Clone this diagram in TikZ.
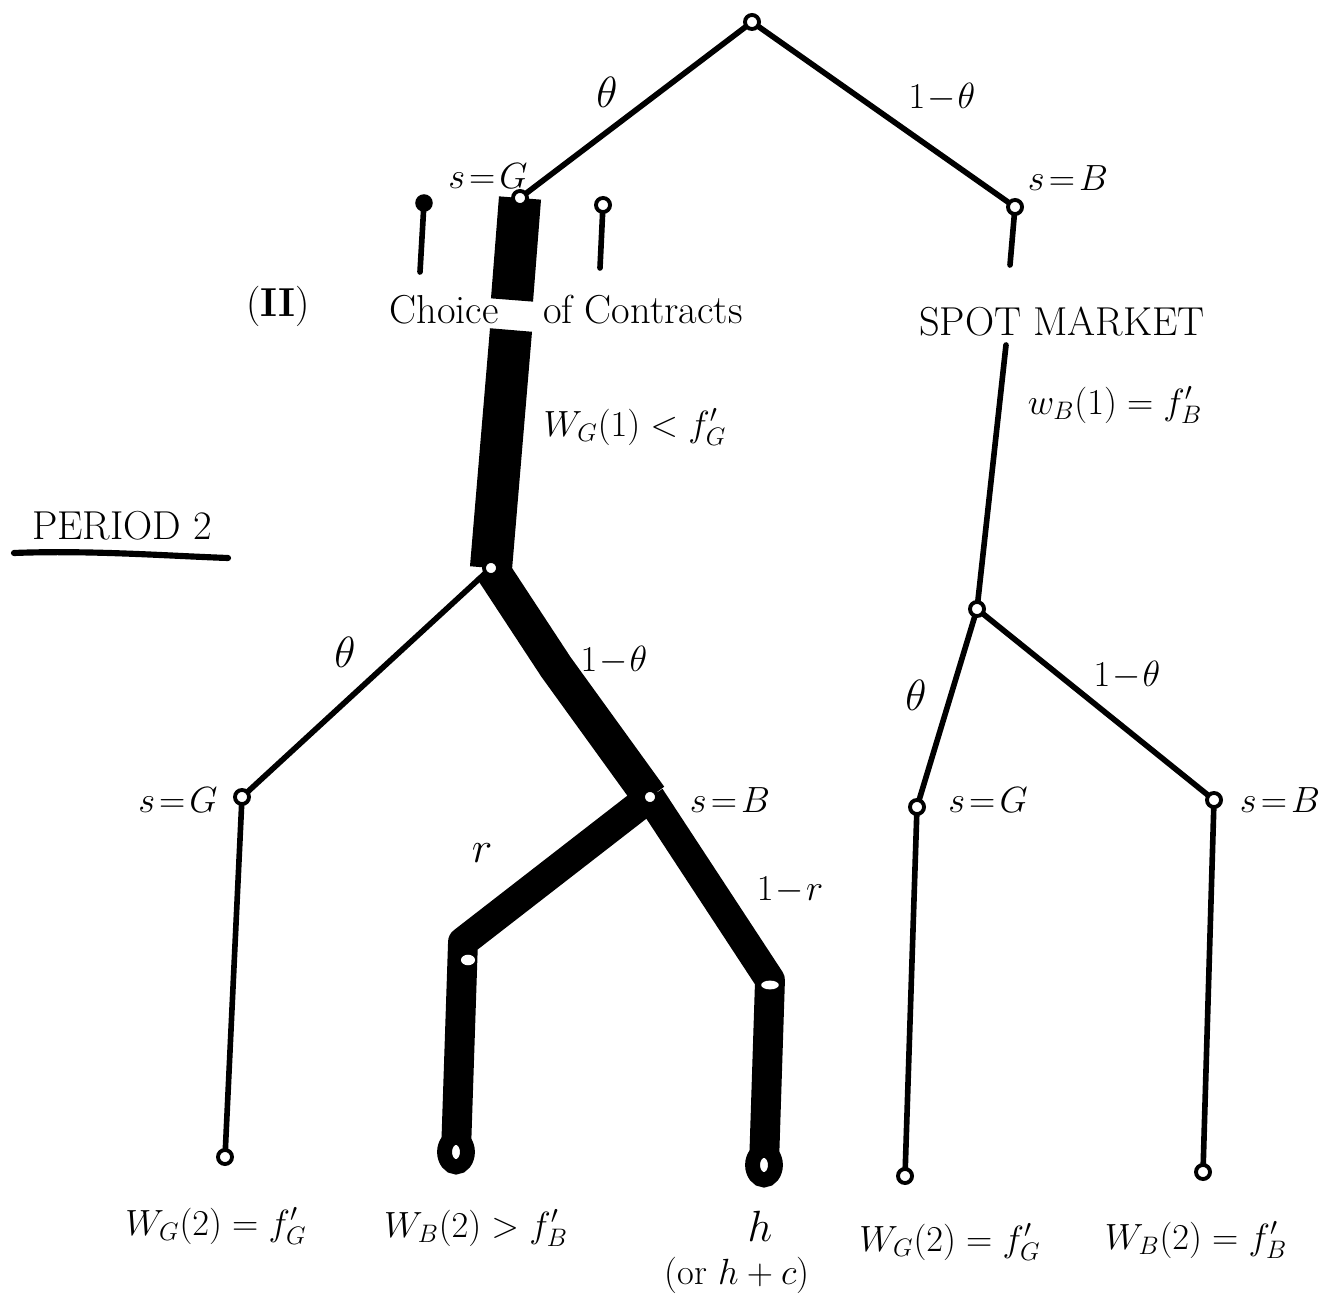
\documentclass[tikz,border=0pt]{standalone}
\usepackage{fontspec}
\usetikzlibrary{shapes.geometric}
\pgfdeclarelayer{bg}
\pgfsetlayers{bg,main}
\begin{document}
\begin{tikzpicture}[x=0.02cm,y=-0.02cm,
  vtx/.style={circle,draw,fill=white,inner sep=0pt,minimum size=8pt,line width=2.2pt},
  dotvtx/.style={circle,fill,inner sep=0pt,minimum size=10pt},
  endblob/.style={ellipse,draw,fill=white,inner sep=0pt,minimum width=13pt,minimum height=17pt,line width=8.5pt},
  thin/.style={line width=3.2pt,line cap=round,line join=round},
  heavy/.style={line width=24pt,line join=round},
  heavym/.style={line width=20pt,line join=round},
  heavyb/.style={line width=17pt,line join=round},
  lbl/.style={font=\fontsize{20.74}{25}\selectfont,inner sep=1pt},
  lblth/.style={font=\fontsize{24.88}{29}\selectfont,inner sep=1pt},
  big/.style={font=\fontsize{23}{28}\selectfont,inner sep=1pt}]
\useasboundingbox (0,0) rectangle (1323,1297);
% vertices
\node[vtx] (root) at (752,22) {};
\node[vtx] (sG) at (520,198) {};
\node[vtx] (sB) at (1015,207) {};
\node[dotvtx] (stubL) at (424,203) {};
\node[vtx] (stubR) at (603,205) {};
\coordinate (stubLe) at (420,272);
\coordinate (stubRe) at (600,268);
\coordinate (sBe) at (1010,265);
\coordinate (barTopEnd) at (512,300);
\coordinate (barLowStart) at (511,330);
\node[vtx] (pA) at (491,568) {};
\coordinate (spotS) at (1006,345);
\node[vtx] (pB) at (977,609) {};
\node[vtx] (lG) at (242,797) {};
\node[vtx] (mB) at (650,797) {};
\node[vtx] (rG) at (917,807) {};
\node[vtx] (rB) at (1214,800) {};
\coordinate (rK) at (463,942);
\coordinate (hK) at (770,980);
\coordinate (aM) at (556,667);
\node[endblob] (eR) at (456,1152) {};
\node[endblob] (eH) at (764,1165) {};
\node[vtx] (eL) at (225,1157) {};
\node[vtx] (eRG) at (905,1176) {};
\node[vtx] (eRB) at (1203,1172) {};
\begin{pgfonlayer}{bg}
\draw[thin] (root.center) -- (sG.center);
\draw[thin] (root.center) -- (sB.center);
\draw[thin] (stubL.center) -- (stubLe);
\draw[thin] (stubR.center) -- (stubRe);
\draw[thin] (sB.center) -- (sBe);
\draw[thin] (spotS) -- (pB.center);
\draw[thin] (pA.center) -- (lG.center);
\draw[thin] (lG.center) -- (eL.center);
\draw[thin] (pB.center) -- (rG.center);
\draw[thin] (pB.center) -- (rB.center);
\draw[thin] (rG.center) -- (eRG.center);
\draw[thin] (rB.center) -- (eRB.center);
\draw[heavy] (sG.center) -- (barTopEnd);
\draw[heavy] (barLowStart) -- (pA.center);
\draw[heavym] (pA.center) -- (aM) -- (mB.center);
\draw[heavyb] (mB.center) -- (rK) -- (eR.center);
\draw[heavyb] (mB.center) -- (hK) -- (eH.center);
\end{pgfonlayer}
\fill[white] (468,960) ellipse (4pt and 3pt);
\fill[white] (770,985) ellipse (5pt and 2.5pt);
% labels
\node[lblth] (tTh) at (607,92) {$\theta$};
\node[lbl] (t1Th) at (942,97) {$1\!-\!\theta$};
\node[lbl] (tsG) at (488,176) {$s\!=\!G$};
\node[lbl] (tsB) at (1068,178) {$s\!=\!B$};
\node[big] (tII) at (278,306) {(\textbf{II})};
\node[big] (tChoice) at (566,310) {Choice\hspace{1.1em}of Contracts};
\node[big] (tSpot) at (1062,322) {SPOT MARKET};
\node[lbl] (tWG1) at (635,427) {$W_G(1)<f'_G$};
\node[lbl] (tWB1) at (1115,405) {$w_B(1)=f'_B$};
\node[big] (tPer) at (122,526) {PERIOD 2};
\draw[line width=3.5pt,line cap=round] (14,553) .. controls (90,550) and (170,556) .. (228,558);
\node[lblth] (tTh2) at (345,652) {$\theta$};
\node[lbl] (t1Th2) at (614,660) {$1\!-\!\theta$};
\node[lbl] (tsG2) at (178,800) {$s\!=\!G$};
\node[lbl] (tsB2) at (730,800) {$s\!=\!B$};
\node[lblth] (tr) at (482,853) {$r$};
\node[lbl] (t1r) at (790,890) {$1\!-\!r$};
\node[lblth] (tTh3) at (916,695) {$\theta$};
\node[lbl] (t1Th3) at (1127,675) {$1\!-\!\theta$};
\node[lbl] (tsG3) at (988,800) {$s\!=\!G$};
\node[lbl] (tsB3) at (1280,800) {$s\!=\!B$};
\node[lbl] (b1) at (216,1226) {$W_G(2)=f'_G$};
\node[lbl] (b2) at (476,1228) {$W_B(2)>f'_B$};
\node[lblth] (b3) at (760,1226) {$h$};
\node[lbl] (b3b) at (737,1275) {(or $h+c$)};
\node[lbl] (b4) at (950,1242) {$W_G(2)=f'_G$};
\node[lbl] (b5) at (1196,1240) {$W_B(2)=f'_B$};
\end{tikzpicture}
\end{document}
